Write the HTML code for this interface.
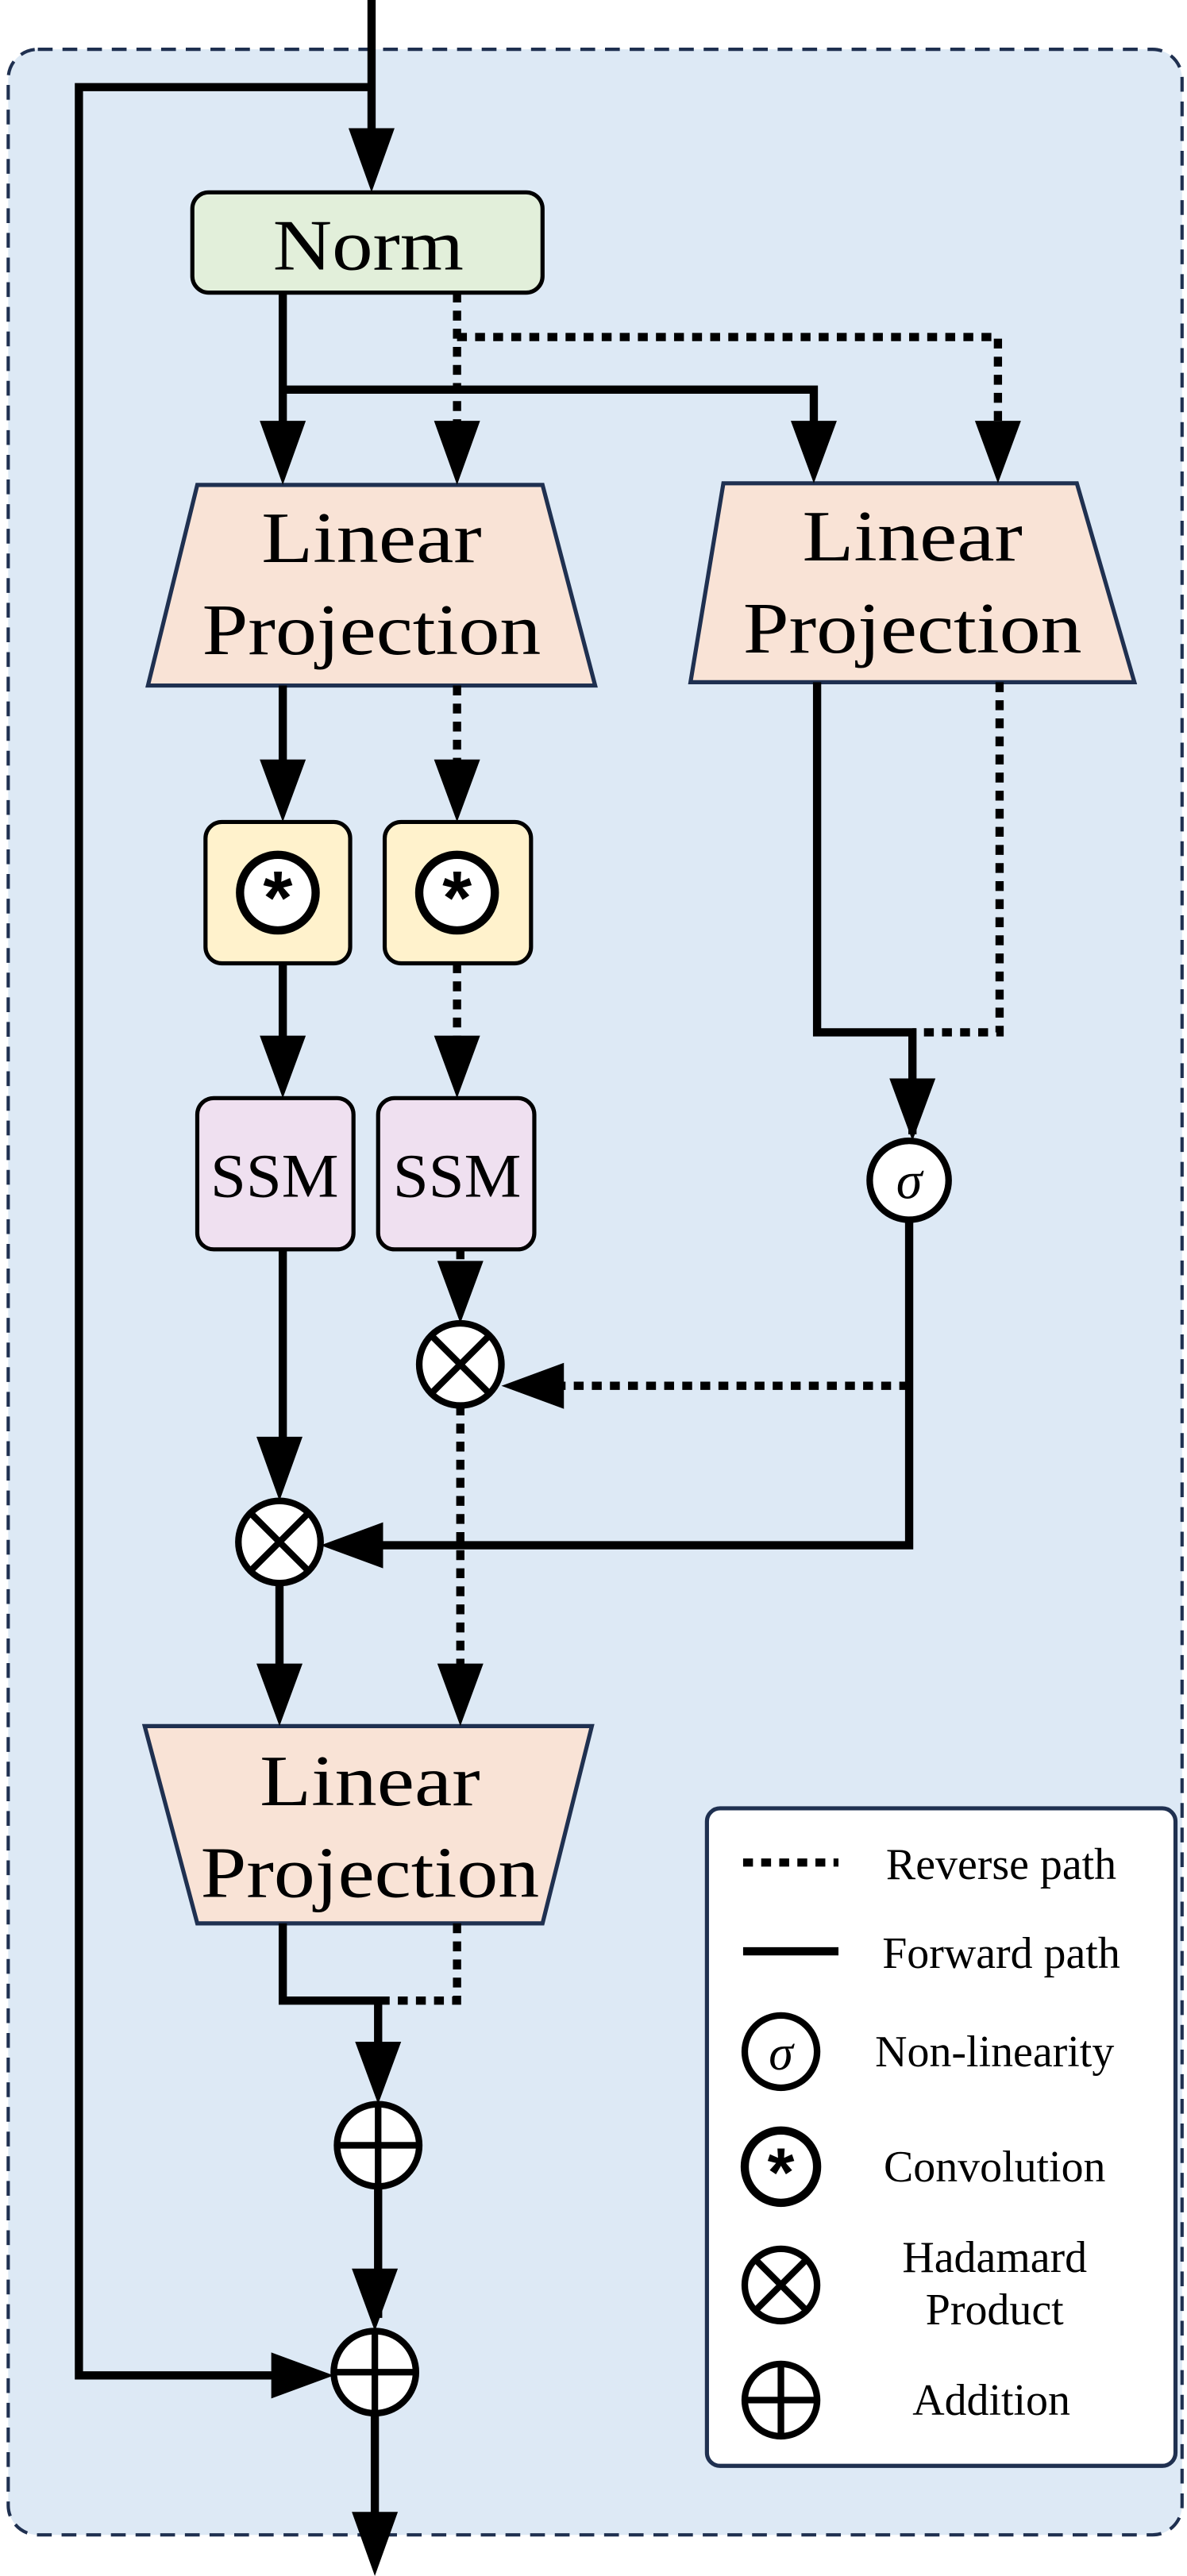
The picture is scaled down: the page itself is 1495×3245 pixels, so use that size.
<!DOCTYPE html>
<html><head><meta charset="utf-8">
<style>html,body{margin:0;padding:0;background:#fff}svg{display:block}</style>
</head><body>
<svg width="1495" height="3245" viewBox="0 0 722 1567" preserveAspectRatio="none" xmlns="http://www.w3.org/2000/svg">
<rect x="5" y="30" width="714" height="1512" rx="18" fill="#dde9f5" stroke="#1f3050" stroke-width="2" stroke-dasharray="9,6"/>
<g font-family="Liberation Serif, serif" text-anchor="middle" fill="#000">
<rect x="117" y="117" width="213" height="61" rx="10" fill="#e2efda" stroke="#000" stroke-width="2.5"/>
<text x="224" y="0" font-size="44" transform="translate(0,164) scale(1,1) " textLength="116" lengthAdjust="spacingAndGlyphs">Norm</text>
<polygon points="120,295 330,295 362,417 90,417" fill="#f9e3d6" stroke="#1f3050" stroke-width="2.5"/>
<text x="226" y="342" font-size="44" textLength="134" lengthAdjust="spacingAndGlyphs">Linear</text>
<text x="226" y="398" font-size="44" textLength="206" lengthAdjust="spacingAndGlyphs">Projection</text>
<polygon points="440,294 655,294 690,415 420,415" fill="#f9e3d6" stroke="#1f3050" stroke-width="2.5"/>
<text x="555" y="341" font-size="44" textLength="134" lengthAdjust="spacingAndGlyphs">Linear</text>
<text x="555" y="397" font-size="44" textLength="206" lengthAdjust="spacingAndGlyphs">Projection</text>
<polygon points="88,1050 360,1050 330,1170 120,1170" fill="#f9e3d6" stroke="#1f3050" stroke-width="2.5"/>
<text x="225" y="1098" font-size="44" textLength="134" lengthAdjust="spacingAndGlyphs">Linear</text>
<text x="225" y="1154" font-size="44" textLength="206" lengthAdjust="spacingAndGlyphs">Projection</text>
<rect x="125" y="500" width="88" height="86" rx="10" fill="#fff2cc" stroke="#000" stroke-width="2.5"/>
<rect x="234" y="500" width="89" height="86" rx="10" fill="#fff2cc" stroke="#000" stroke-width="2.5"/>
<circle cx="169" cy="543" r="23" fill="#fff" stroke="#000" stroke-width="5"/>
<circle cx="278" cy="543" r="23" fill="#fff" stroke="#000" stroke-width="5"/>
<text x="169" y="562" font-size="46" font-family="Liberation Sans, sans-serif" font-weight="bold">*</text>
<text x="278" y="562" font-size="46" font-family="Liberation Sans, sans-serif" font-weight="bold">*</text>
<rect x="120" y="668" width="95" height="92" rx="10" fill="#efe0f0" stroke="#000" stroke-width="2.5"/>
<rect x="230" y="668" width="95" height="92" rx="10" fill="#efe0f0" stroke="#000" stroke-width="2.5"/>
<text x="167" y="728" font-size="38" textLength="78" lengthAdjust="spacingAndGlyphs">SSM</text>
<text x="278" y="728" font-size="38" textLength="78" lengthAdjust="spacingAndGlyphs">SSM</text>
</g>
<g fill="none" stroke="#000" stroke-width="5">
<path d="M226,0 V110"/>
<path d="M226,53 H48 V1445 H185"/>
<path d="M172,178 V258 M172,237 H495 V258"/>
<path d="M172,417 V468 M172,586 V636 M172,760 V880 M170,963 V1015"/>
<path d="M497,415 V628 H555 V690"/>
<path d="M553,742 V940 H230"/>
<path d="M172,1170 V1217 H230 V1270 M230,1330 V1410 M228,1468 V1530"/>
</g>
<g fill="none" stroke="#000" stroke-width="5" stroke-dasharray="6,5">
<path d="M278,178 V258 M278,205 H607 V258"/>
<path d="M278,417 V468 M278,586 V636 M280,760 V775 M280,855 V1015"/>
<path d="M608,415 V628 H555"/>
<path d="M553,843 H335"/>
<path d="M278,1170 V1217 H230"/>
</g>
<g fill="#000">
<polygon points="212,78 240,78 226,117"/>
<polygon points="158,256 186,256 172,295"/>
<polygon points="264,256 292,256 278,295"/>
<polygon points="481,256 509,256 495,294"/>
<polygon points="593,256 621,256 607,294"/>
<polygon points="158,462 186,462 172,500"/>
<polygon points="264,462 292,462 278,500"/>
<polygon points="158,630 186,630 172,668"/>
<polygon points="264,630 292,630 278,668"/>
<polygon points="541,656 569,656 555,694"/>
<polygon points="266,767 294,767 280,805"/>
<polygon points="343,829 343,857 305,843"/>
<polygon points="156,874 184,874 170,913"/>
<polygon points="233,926 233,954 195,940"/>
<polygon points="156,1012 184,1012 170,1050"/>
<polygon points="266,1012 294,1012 280,1050"/>
<polygon points="216,1242 244,1242 230,1280"/>
<polygon points="214,1380 242,1380 228,1418"/>
<polygon points="165,1431 165,1459 203,1445"/>
<polygon points="214,1528 242,1528 228,1567"/>
</g>
<g fill="#fff" stroke="#000" stroke-width="4">
<circle cx="553" cy="718" r="24"/>
<circle cx="280" cy="830" r="25"/>
<path d="M262,812 L298,848 M298,812 L262,848" fill="none"/>
<circle cx="170" cy="938" r="25"/>
<path d="M152,920 L188,956 M188,920 L152,956" fill="none"/>
<circle cx="230" cy="1305" r="25"/>
<path d="M205,1305 H255 M230,1280 V1330" fill="none"/>
<circle cx="228" cy="1443" r="25"/>
<path d="M203,1443 H253 M228,1418 V1468" fill="none"/>
</g>
<text x="553" y="729" font-size="32" font-style="italic" text-anchor="middle" font-family="Liberation Serif, serif">σ</text>
<rect x="430" y="1100" width="285" height="400" rx="8" fill="#fff" stroke="#1f3050" stroke-width="2.5"/>
<path d="M452,1133 H510" stroke="#000" stroke-width="5" stroke-dasharray="6,5"/>
<path d="M452,1187 H510" stroke="#000" stroke-width="5"/>
<g fill="#fff" stroke="#000" stroke-width="4">
<circle cx="475" cy="1248" r="22"/>
<circle cx="475" cy="1318" r="22" stroke-width="5"/>
<circle cx="475" cy="1390" r="22"/>
<path d="M459,1374 L491,1406 M491,1374 L459,1406" fill="none"/>
<circle cx="475" cy="1460" r="22"/>
<path d="M453,1460 H497 M475,1438 V1482" fill="none"/>
</g>
<g font-family="Liberation Serif, serif" font-size="27" text-anchor="middle" fill="#000">
<text x="475" y="1259" font-size="30" font-style="italic">σ</text>
<text x="475" y="1336" font-size="42" font-family="Liberation Sans, sans-serif" font-weight="bold">*</text>
<text x="609" y="1143">Reverse path</text>
<text x="609" y="1197">Forward path</text>
<text x="605" y="1257">Non-linearity</text>
<text x="605" y="1327">Convolution</text>
<text x="605" y="1382">Hadamard</text>
<text x="605" y="1414">Product</text>
<text x="603" y="1469">Addition</text>
</g>
</svg>
</body></html>
